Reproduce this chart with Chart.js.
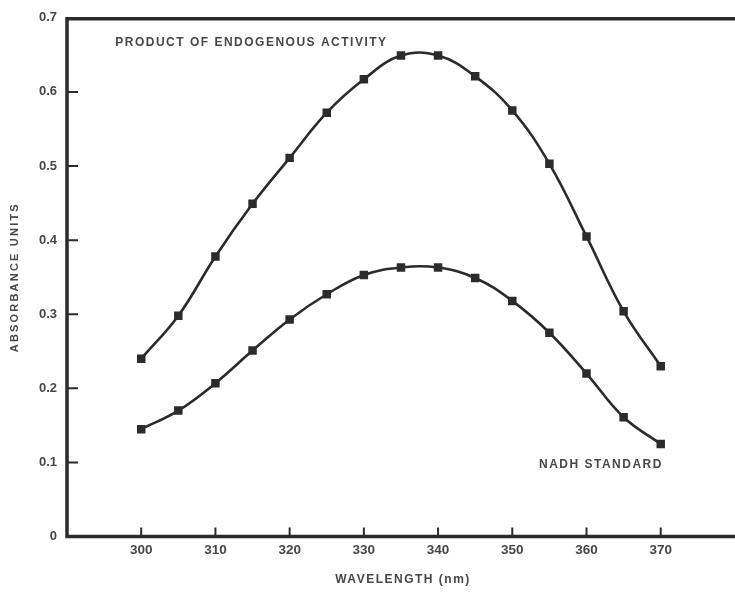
<!DOCTYPE html>
<html>
<head>
<meta charset="utf-8">
<script src="https://cdn.jsdelivr.net/npm/chart.js@4/dist/chart.umd.min.js"></script>
<style>
  html, body { margin: 0; padding: 0; background: #fff; }
  #wrap { width: 735px; height: 592px; }
</style>
</head>
<body>
<div id="wrap"><canvas id="spectrum" width="735" height="592"></canvas></div>
<script>
    // --- Data ---
    const wavelengths = [300, 305, 310, 315, 320, 325, 330, 335, 340, 345, 350, 355, 360, 365, 370];
    const endogenousProduct = [0.240, 0.298, 0.378, 0.449, 0.511, 0.572, 0.617, 0.649, 0.649, 0.621, 0.575, 0.503, 0.405, 0.304, 0.230];
    const nadhStandard = [0.145, 0.170, 0.207, 0.251, 0.293, 0.327, 0.353, 0.363, 0.363, 0.349, 0.318, 0.275, 0.220, 0.161, 0.125];
    const xTickValues = [300, 310, 320, 330, 340, 350, 360, 370];
    const yTickValues = [0, 0.1, 0.2, 0.3, 0.4, 0.5, 0.6, 0.7];

    const INK = '#2b2b2b';
    const LABEL = '#474747';
    const FONT = '"Liberation Sans", Arial, sans-serif';

    function toPoints(ys) {
        return wavelengths.map((x, i) => ({ x: x, y: ys[i] }));
    }

    // frame, inward ticks, titles and curve labels
    const framePlugin = {
        id: 'frame',
        afterDraw(chart) {
            const { ctx, chartArea, scales } = chart;
            const xs = scales.x, ys = scales.y;
            const left = chartArea.left, right = chartArea.right, top = chartArea.top, bottom = chartArea.bottom;

            ctx.save();
            ctx.strokeStyle = INK;
            ctx.lineCap = 'square';
            ctx.lineWidth = 3.5;
            ctx.beginPath();
            ctx.moveTo(right + 5, top + 1);
            ctx.lineTo(left, top + 1);
            ctx.lineTo(left, bottom);
            ctx.lineTo(right + 5, bottom);
            ctx.stroke();

            ctx.lineWidth = 2;
            ctx.lineCap = 'butt';
            ctx.beginPath();
            yTickValues.forEach(v => {
                if (v === 0 || v === 0.7) return;
                const py = ys.getPixelForValue(v);
                ctx.moveTo(left, py);
                ctx.lineTo(left + 11, py);
            });
            xTickValues.forEach(v => {
                const px = xs.getPixelForValue(v);
                ctx.moveTo(px, bottom);
                ctx.lineTo(px, bottom - 9);
            });
            ctx.stroke();

            ctx.fillStyle = LABEL;
            ctx.font = 'bold 12px ' + FONT;
            ctx.letterSpacing = '1.5px';
            ctx.textAlign = 'center';
            ctx.textBaseline = 'middle';
            ctx.fillText('WAVELENGTH (nm)', (left + right) / 2 + 5, 580);

            ctx.save();
            ctx.translate(15, (top + bottom) / 2);
            ctx.rotate(-Math.PI / 2);
            ctx.font = 'bold 11px ' + FONT;
            ctx.letterSpacing = '2.2px';
            ctx.fillText('ABSORBANCE UNITS', 0, 0);
            ctx.restore();

            ctx.textAlign = 'left';
            ctx.font = 'bold 12px ' + FONT;
            ctx.letterSpacing = '1.5px';
            ctx.fillText('PRODUCT OF ENDOGENOUS ACTIVITY', xs.getPixelForValue(296.5), ys.getPixelForValue(0.666));
            ctx.fillText('NADH STANDARD', xs.getPixelForValue(353.6), ys.getPixelForValue(0.097));
            ctx.restore();
        }
    };

    const seriesStyle = {
        borderColor: INK,
        backgroundColor: INK,
        borderWidth: 2.6,
        pointStyle: 'rect',
        pointRadius: 6,
        pointBorderWidth: 0,
        tension: 0.4
    };

    new Chart(document.getElementById('spectrum').getContext('2d'), {
        type: 'line',
        data: {
            datasets: [
                Object.assign({ label: 'Product of endogenous activity', data: toPoints(endogenousProduct) }, seriesStyle),
                Object.assign({ label: 'NADH standard', data: toPoints(nadhStandard) }, seriesStyle)
            ]
        },
        options: {
            responsive: false,
            animation: false,
            layout: { padding: { top: 7, right: 0, left: 0, bottom: 0 } },
            plugins: { legend: { display: false }, tooltip: { enabled: false } },
            scales: {
                x: {
                    type: 'linear',
                    min: 290,
                    max: 379.2,
                    afterBuildTicks: scale => { scale.ticks = xTickValues.map(v => ({ value: v })); },
                    afterFit: scale => { scale.height = 55.4; },
                    grid: { display: false, drawTicks: false },
                    border: { display: false },
                    ticks: {
                        color: LABEL,
                        font: { family: FONT, size: 13.5, weight: 'bold' },
                        padding: 6,
                        maxRotation: 0
                    }
                },
                y: {
                    min: 0,
                    max: 0.7,
                    afterBuildTicks: scale => { scale.ticks = yTickValues.map(v => ({ value: v })); },
                    afterFit: scale => { scale.width = 67; },
                    grid: { display: false, drawTicks: false },
                    border: { display: false },
                    ticks: {
                        color: LABEL,
                        font: { family: FONT, size: 13, weight: 'bold' },
                        padding: 10,
                        callback: v => (v === 0 ? '0' : v.toFixed(1))
                    }
                }
            }
        },
        plugins: [framePlugin]
    });
</script>
</body>
</html>
